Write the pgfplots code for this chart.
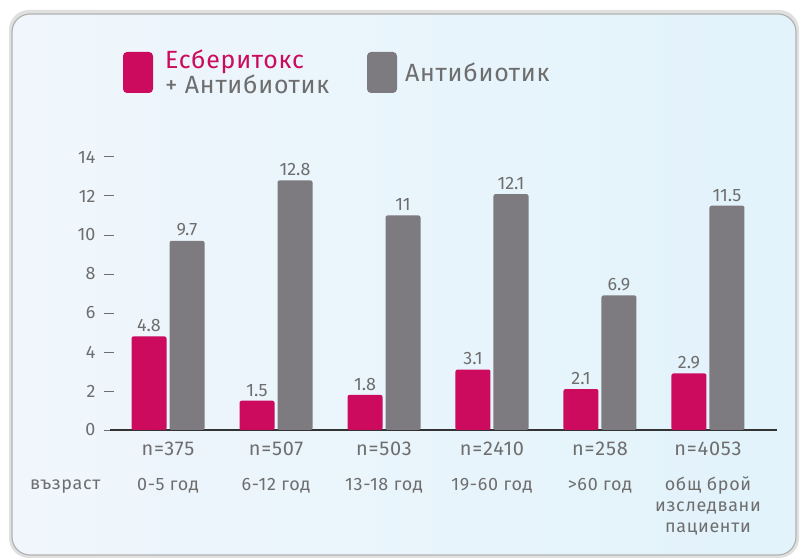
\documentclass[border=0pt]{standalone}
\usepackage{pgfplots}
\pgfplotsset{compat=1.18}
\usepackage{fontspec}
\setmainfont{Fira Sans}
\definecolor{pinkbar}{HTML}{CC0A5E}
\definecolor{graybar}{HTML}{7E7B80}
\definecolor{txt}{HTML}{6E6E6E}
\definecolor{bgL}{HTML}{F0F6FC}
\definecolor{bgR}{HTML}{E2F3FB}
\newcommand{\bl}{\fontsize{18}{21}\selectfont\addfontfeatures{LetterSpace=4}}
\begin{document}
\begin{tikzpicture}
\fill[white] (0bp,0bp) rectangle (800bp,558bp);
\fill[black!12,rounded corners=20bp] (9bp,0bp) rectangle (799bp,548bp);
\shade[left color=bgL,right color=bgR,rounded corners=18bp] (12bp,3bp) rectangle (796bp,544bp);
\draw[black!30,line width=1.2bp,rounded corners=18bp] (12bp,3bp) rectangle (796bp,544bp);
\begin{axis}[
  at={(168bp,128bp)}, anchor=origin, scale only axis,
  width=667bp, height=273bp,
  xmin=-0.537, xmax=5.639, ymin=0, ymax=14,
  ybar=3bp, bar width=35bp,
  axis x line*=bottom, axis y line*=left,
  y axis line style={draw=none},
  x axis line style={draw=black!80, line width=1.5pt, -},
  /pgf/number format/assume math mode=true,
  ytick={0,2,...,14}, tick align=outside, major tick length=10bp,
  ytick style={draw=txt, line width=1pt, xshift=4bp},
  yticklabel style={font=\fontsize{18}{20}\selectfont, text=txt, xshift=-1bp},
  xtick=data, xtick style={draw=none},
  xticklabels={
    {\fontsize{20}{22}\selectfont n=375\\[15bp]0-5 год},
    {\fontsize{20}{22}\selectfont n=507\\[15bp]6-12 год},
    {\fontsize{20}{22}\selectfont n=503\\[15bp]13-18 год},
    {\fontsize{20}{22}\selectfont n=2410\\[15bp]19-60 год},
    {\fontsize{20}{22}\selectfont n=258\\[15bp]>60 год},
    {\fontsize{20}{22}\selectfont n=4053\\[15bp]общ брой\\изследвани\\пациенти}},
  xticklabel style={align=center, anchor=north, text=txt, font=\bl, yshift=2bp},
  nodes near coords,
  nodes near coords style={font=\fontsize{18}{20}\selectfont, text=txt, yshift=1bp},
  every axis plot/.append style={draw=none, rounded corners=2bp},
]
\addplot[fill=pinkbar] coordinates {(0,4.8) (1,1.5) (2,1.8) (3,3.1) (4,2.1) (5,2.9)};
\addplot[fill=graybar] coordinates {(0,9.7) (1,12.8) (2,11) (3,12.1) (4,6.9) (5,11.5)};
\end{axis}
\node[anchor=west, inner sep=0, text=txt, font=\bl] at (30bp,71bp) {възраст};
% legend
\fill[pinkbar, rounded corners=4bp] (123bp,506bp) rectangle (153bp,465bp);
\node[anchor=base west, inner sep=0, text=pinkbar, font=\fontsize{25}{26}\selectfont\addfontfeatures{LetterSpace=3}] at (165bp,489bp) {Есберитокс};
\node[anchor=base west, inner sep=0, text=txt, font=\fontsize{25}{26}\selectfont\addfontfeatures{LetterSpace=3}] at (165bp,464bp) {+ Антибиотик};
\fill[graybar, rounded corners=4bp] (367bp,506bp) rectangle (397bp,465bp);
\node[anchor=base west, inner sep=0, text=txt, font=\fontsize{25}{26}\selectfont\addfontfeatures{LetterSpace=3}] at (405bp,476bp) {Антибиотик};
\end{tikzpicture}
\end{document}
